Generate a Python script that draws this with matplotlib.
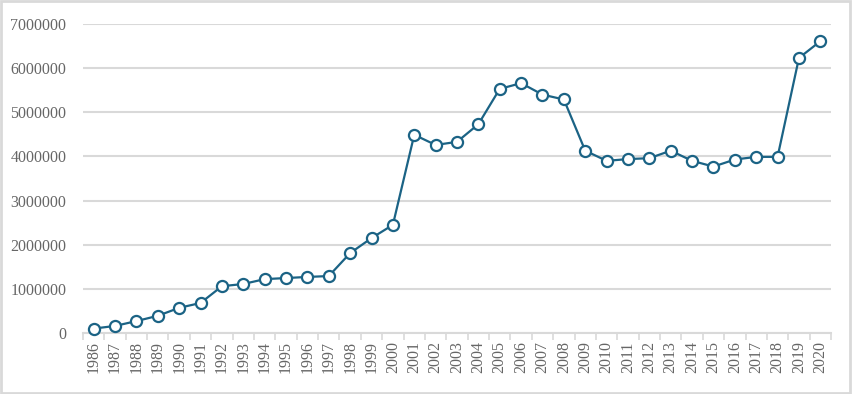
import matplotlib
matplotlib.use("Agg")
import matplotlib.pyplot as plt
from matplotlib.patches import Rectangle
import numpy as np

############################################
# DATA
############################################

years = [str(y) for y in range(1986, 2021)]

values = [
    100000, 160000, 270000, 390000, 570000, 680000, 1060000, 1110000,
    1220000, 1245000, 1270000, 1290000, 1810000, 2150000, 2450000,
    4490000, 4260000, 4330000, 4730000, 5530000, 5660000, 5400000,
    5290000, 4130000, 3900000, 3940000, 3960000, 4130000, 3900000,
    3770000, 3930000, 3990000, 3990000, 6230000, 6610000,
]

yticks = [0, 1000000, 2000000, 3000000, 4000000, 5000000, 6000000, 7000000]

############################################
# STYLE
############################################

LINE_COLOR = "#1b6385"
GRID_COLOR = "#d9d9d9"
TEXT_COLOR = "#666666"

plt.rcParams["font.family"] = ["Liberation Serif", "DejaVu Serif"]

############################################
# PLOT
############################################

fig = plt.figure(figsize=(8.52, 3.94), dpi=100)
ax = fig.add_axes([83 / 852, 1 - 333 / 394, (831 - 83) / 852, (333 - 24) / 394])

x = np.arange(len(years))
ax.plot(x, values, color=LINE_COLOR, lw=1.6, marker="o", markersize=8,
        markerfacecolor="white", markeredgecolor=LINE_COLOR, markeredgewidth=1.6,
        zorder=3, clip_on=False)

ax.set_xlim(-0.5, len(years) - 0.5)
ax.set_ylim(0, 7000000)

ax.set_yticks(yticks)
ax.set_yticklabels([str(v) for v in yticks])
ax.yaxis.grid(True, color=GRID_COLOR, lw=1.5)
ax.set_axisbelow(True)

ax.set_xticks(x)
ax.set_xticklabels(years, rotation=90)
ax.set_xticks(np.arange(-0.5, len(years)), minor=True)
ax.tick_params(axis="x", which="major", length=0, pad=6, labelsize=11.5, colors=TEXT_COLOR)
ax.tick_params(axis="x", which="minor", length=5, width=1.2, color=GRID_COLOR)
ax.tick_params(axis="y", length=0, pad=12, labelsize=11.5, labelcolor=TEXT_COLOR)

for s in ["top", "right", "left"]:
    ax.spines[s].set_visible(False)
ax.spines["bottom"].set_color(GRID_COLOR)
ax.spines["bottom"].set_linewidth(1.5)

fig.patches.append(Rectangle((0.001, 0.002), 0.997, 0.995, transform=fig.transFigure,
                             fill=False, edgecolor=GRID_COLOR, lw=2))

fig.savefig("out.png", dpi=100)
